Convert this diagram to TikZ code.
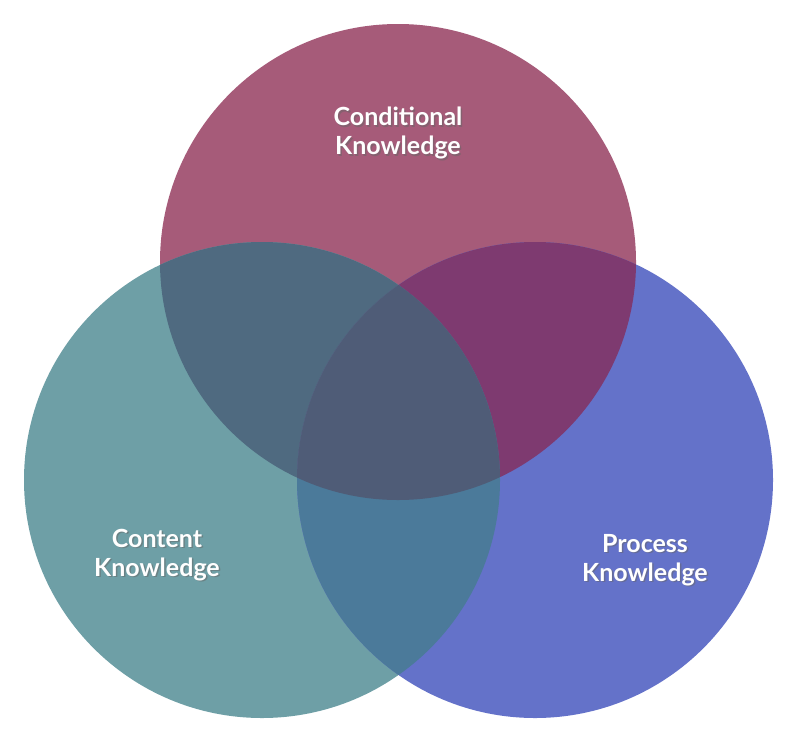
\documentclass[tikz,border=0pt]{standalone}
\usepackage{fontspec}
\setmainfont{Lato}
\usetikzlibrary{calc}
\definecolor{ctop}{HTML}{A65B79}
\definecolor{cleft}{HTML}{6E9FA6}
\definecolor{cright}{HTML}{6472C9}
\definecolor{ctr}{HTML}{7E3A70}
\definecolor{ctl}{HTML}{4F6A80}
\definecolor{clr}{HTML}{4B7A9A}
\definecolor{cmid}{HTML}{4F5C77}
\tikzset{lbl/.style={text=white,font=\fontsize{25}{29}\selectfont\bfseries,align=center}}
\begin{document}
\begin{tikzpicture}[x=1pt,y=-1pt]
\useasboundingbox (0,0) rectangle (802,744);
\def\T{(398,262) circle (238)}
\def\L{(262,480) circle (238)}
\def\R{(535,480) circle (238)}
\fill[ctop] \T;
\fill[cleft] \L;
\fill[cright] \R;
\begin{scope}\clip \T; \fill[ctl] \L; \fill[ctr] \R; \end{scope}
\begin{scope}\clip \L; \fill[clr] \R; \end{scope}
\begin{scope}\clip \T; \clip \L; \fill[cmid] \R; \end{scope}
\foreach \n/\p/\t in {a/{398,133}/{Conditional\\Knowledge},b/{157,555}/{Content\\Knowledge},c/{645,560}/{Process\\Knowledge}}{
  \node[lbl,text=black!60,opacity=0.5] at ($(\p)+(1.5,1.5)$) {\t};
  \node[lbl] (\n) at (\p) {\t};
}
\end{tikzpicture}
\end{document}
